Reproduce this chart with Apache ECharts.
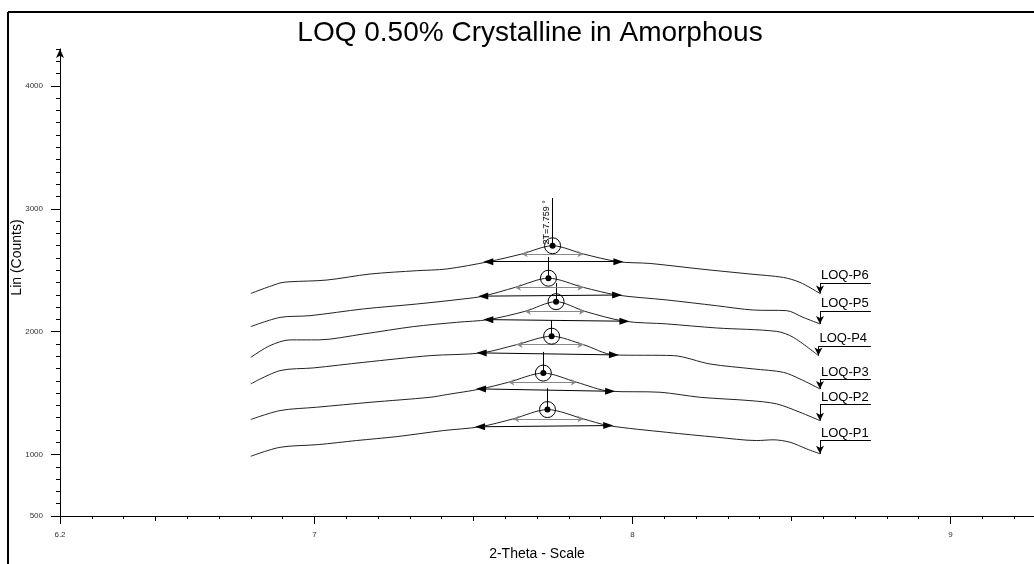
<!DOCTYPE html>
<html>
<head>
<meta charset="utf-8">
<script src="https://cdn.jsdelivr.net/npm/echarts@6/dist/echarts.min.js"></script>
<style>
  html, body { margin: 0; padding: 0; background: #fff; }
  #chart { width: 1034px; height: 564px; }
</style>
</head>
<body>
<div id="chart"></div>
<script>
// scan names, bottom to top
const names = ['LOQ-P1', 'LOQ-P2', 'LOQ-P3', 'LOQ-P4', 'LOQ-P5', 'LOQ-P6']

// [2-theta, counts]
const p1 = [[6.800, 986], [6.892, 1059], [7.012, 1081], [7.133, 1114], [7.259, 1146], [7.405, 1195], [7.521, 1226], [7.625, 1290], [7.733, 1366], [7.846, 1290], [7.924, 1236], [8.108, 1181], [8.265, 1141], [8.391, 1114], [8.443, 1120], [8.496, 1100], [8.548, 1046], [8.590, 1006]]
const p2 = [[6.800, 1285], [6.892, 1358], [7.007, 1385], [7.175, 1425], [7.364, 1466], [7.416, 1488], [7.524, 1534], [7.610, 1588], [7.720, 1663], [7.825, 1588], [7.930, 1515], [8.087, 1507], [8.213, 1466], [8.370, 1439], [8.454, 1412], [8.527, 1344], [8.590, 1276]]
const p3 = [[6.800, 1575], [6.892, 1683], [6.997, 1705], [7.154, 1750], [7.364, 1805], [7.526, 1827], [7.636, 1894], [7.746, 1963], [7.846, 1894], [7.942, 1811], [8.129, 1805], [8.244, 1737], [8.380, 1697], [8.475, 1669], [8.527, 1615], [8.590, 1534]]
const p4 = [[6.800, 1791], [6.860, 1886], [6.923, 1933], [7.012, 1933], [7.154, 1981], [7.311, 2041], [7.447, 2076], [7.547, 2098], [7.662, 2165], [7.760, 2244], [7.851, 2165], [7.975, 2085], [8.108, 2063], [8.265, 2030], [8.454, 2002], [8.506, 1954], [8.585, 1805]]
const p5 = [[6.800, 2041], [6.892, 2116], [6.986, 2130], [7.154, 2185], [7.322, 2225], [7.468, 2266], [7.531, 2289], [7.631, 2360], [7.736, 2435], [7.846, 2360], [7.952, 2298], [8.108, 2258], [8.265, 2211], [8.380, 2176], [8.485, 2171], [8.537, 2116], [8.590, 2063]]
const p6 = [[6.800, 2311], [6.892, 2396], [6.923, 2406], [7.039, 2420], [7.175, 2469], [7.322, 2496], [7.416, 2510], [7.547, 2569], [7.652, 2632], [7.749, 2699], [7.846, 2632], [7.956, 2569], [8.055, 2555], [8.213, 2510], [8.370, 2469], [8.475, 2441], [8.527, 2401], [8.590, 2311]]
const curves = [p1, p2, p3, p4, p5, p6]

// peak annotations
const peaks = [[7.733, 1366], [7.720, 1663], [7.746, 1963], [7.760, 2244], [7.736, 2435], [7.749, 2699]]
const baseLeft = [[7.521, 1226], [7.524, 1534], [7.526, 1827], [7.547, 2098], [7.531, 2289], [7.547, 2569]]
const baseRight = [[7.924, 1236], [7.930, 1515], [7.942, 1811], [7.975, 2085], [7.952, 2298], [7.956, 2569]]
const halfLeft = [[7.625, 1290], [7.610, 1588], [7.636, 1894], [7.662, 2165], [7.631, 2360], [7.652, 2632]]
const halfRight = [[7.846, 1290], [7.825, 1588], [7.846, 1894], [7.851, 2165], [7.846, 2360], [7.846, 2632]]
const stickTop = [1540, 1835, 2094, 2395, 2607, 3087]
const peakLabel = '2T=7.759 °'

// name callouts at the right end
const calloutY = [1114, 1407, 1610, 1880, 2165, 2393]
const calloutEndX = 8.75

// axis ticks
const xLabels = [6.2, 7, 8, 9]
const xHalfTicks = [6.5, 7.5, 8.5]
const yLabels = [500, 1000, 2000, 3000, 4000]

const chart = echarts.init(document.getElementById('chart'))

const FONT = 'Liberation Sans'
const XMIN = 6.2, XMAX = 9.263, YMIN = 500, YMAX = 4300

const series = curves.map((pts, i) => {
  const end = pts[pts.length - 1]
  const top = i === 5
  return {
    name: names[i],
    type: 'line',
    data: pts,
    smooth: 0.3,
    showSymbol: false,
    lineStyle: { color: '#222', width: 1 },
    markPoint: {
      silent: true,
      label: { show: false },
      data: [
        { coord: peaks[i], symbol: 'circle', symbolSize: 16, itemStyle: { color: 'rgba(0,0,0,0)', borderColor: '#000', borderWidth: 1 } },
        { coord: peaks[i], symbol: 'circle', symbolSize: 6, itemStyle: { color: '#000' } }
      ]
    },
    markLine: {
      silent: true,
      symbol: 'none',
      label: { show: false },
      lineStyle: { type: 'solid', color: '#000', width: 1 },
      data: [
        [
          { coord: baseLeft[i], symbol: 'triangle', symbolSize: [7, 10] },
          { coord: baseRight[i], symbol: 'triangle', symbolSize: [7, 10] }
        ],
        [
          { coord: halfLeft[i], symbol: 'arrow', symbolSize: [5, 6], lineStyle: { color: '#888', type: 'solid', width: 1 } },
          { coord: halfRight[i], symbol: 'arrow', symbolSize: [5, 6] }
        ],
        [
          {
            coord: peaks[i], symbol: 'none',
            label: top
              ? { show: true, position: 'insideEndTop', formatter: peakLabel, fontSize: 9, fontFamily: FONT, color: '#000', distance: 2 }
              : { show: false }
          },
          { coord: [peaks[i][0], stickTop[i]], symbol: 'none' }
        ],
        [
          { coord: [end[0], calloutY[i]], symbol: 'none' },
          { coord: end, symbol: 'arrow', symbolSize: [6, 8] }
        ],
        [
          {
            coord: [end[0], calloutY[i]], symbol: 'none',
            label: { show: true, position: 'insideStartTop', formatter: names[i], fontSize: 13, fontFamily: FONT, color: '#000', distance: 1 }
          },
          { coord: [calloutEndX, calloutY[i]], symbol: 'none' }
        ]
      ]
    }
  }
})

const option = {
  animation: false,
  backgroundColor: '#fff',
  title: {
    text: 'LOQ 0.50% Crystalline in Amorphous',
    left: 525,
    textAlign: 'center',
    top: 14,
    textStyle: { fontFamily: FONT, fontSize: 28, fontWeight: 'normal', color: '#000' }
  },
  grid: { left: 60, right: 0, top: 49, bottom: 48, containLabel: false, outerBoundsMode: 'none' },
  xAxis: [
    {
      type: 'value', min: XMIN, max: XMAX, interval: 0.1,
      axisLine: { lineStyle: { color: '#000', width: 1 } },
      axisTick: { length: 3, lineStyle: { color: '#000' } },
      axisLabel: { show: false },
      splitLine: { show: false }
    },
    {
      type: 'value', min: XMIN, max: XMAX, position: 'bottom',
      axisLine: { show: false },
      axisTick: { customValues: xHalfTicks, length: 5, lineStyle: { color: '#000' } },
      axisLabel: { show: false },
      splitLine: { show: false }
    },
    {
      type: 'value', min: XMIN, max: XMAX, position: 'bottom',
      axisLine: { show: false },
      axisTick: { customValues: xLabels, length: 8, lineStyle: { color: '#000' } },
      axisLabel: { customValues: xLabels, formatter: v => String(v), fontSize: 8, fontFamily: FONT, color: '#333', margin: 15 },
      splitLine: { show: false },
      name: '2-Theta - Scale',
      nameLocation: 'middle',
      nameGap: 31,
      nameMoveOverlap: false,
      nameTextStyle: { fontFamily: FONT, fontSize: 14, color: '#000', padding: [0, 20, 0, 0] }
    }
  ],
  yAxis: [
    {
      type: 'value', min: YMIN, max: YMAX, interval: 100,
      axisLine: { show: true, symbol: ['none', 'arrow'], symbolSize: [6, 9], lineStyle: { color: '#000', width: 1 } },
      axisTick: { length: 4, lineStyle: { color: '#000' } },
      axisLabel: { show: false },
      splitLine: { show: false }
    },
    {
      type: 'value', min: YMIN, max: YMAX, position: 'left',
      axisLine: { show: false },
      axisTick: { customValues: yLabels, length: 9, lineStyle: { color: '#000' } },
      axisLabel: { customValues: yLabels, formatter: v => String(v), fontSize: 8, fontFamily: FONT, color: '#333', margin: 17 },
      splitLine: { show: false },
      name: 'Lin (Counts)',
      nameLocation: 'middle',
      nameGap: 36,
      nameMoveOverlap: false,
      nameTextStyle: { fontFamily: FONT, fontSize: 14, color: '#000', padding: [0, 0, 0, 50] }
    }
  ],
  graphic: [
    { type: 'line', shape: { x1: 8, y1: 12, x2: 1034, y2: 12 }, style: { stroke: '#000', lineWidth: 2 }, silent: true },
    { type: 'line', shape: { x1: 8, y1: 12, x2: 8, y2: 564 }, style: { stroke: '#000', lineWidth: 2 }, silent: true }
  ],
  series: series
}

chart.setOption(option)

window.addEventListener('resize', () => chart.resize())
</script>
</body>
</html>
